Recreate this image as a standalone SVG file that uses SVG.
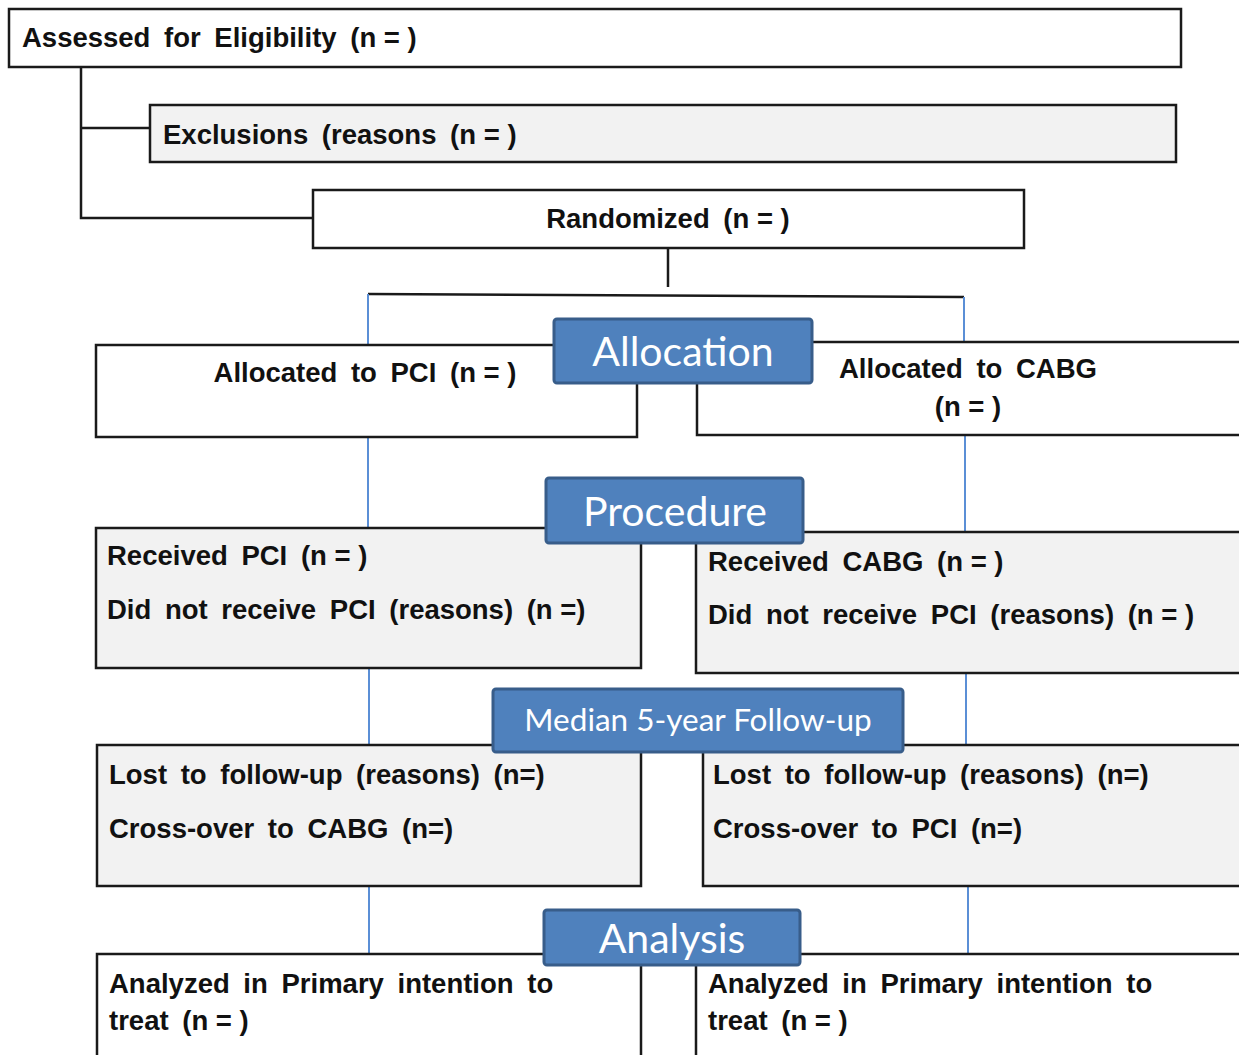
<svg xmlns="http://www.w3.org/2000/svg" width="1239" height="1055" viewBox="0 0 1239 1055">
<style>
.box{stroke:#1a1a1a;stroke-width:2.5;fill:#ffffff}
.grey{fill:#f2f2f2}
.t{font-family:"Liberation Sans",Arial,sans-serif;font-weight:bold;font-size:27.5px;fill:#111;word-spacing:6px}
.n{word-spacing:0}
.lab{fill:#4f81bd;stroke:#385d8a;stroke-width:3}
.lt{font-family:Lato,"Open Sans",sans-serif;fill:#ffffff;text-anchor:middle}
.blk{stroke:#1a1a1a;stroke-width:2.5;fill:none}
.blu{stroke:#5b8fd6;stroke-width:2;fill:none}
</style>
<rect width="1239" height="1055" fill="#ffffff"/>
<g id="connectors">
<path class="blk" d="M81 67 V218 H313 M81 128 H150"/>
<path class="blk" d="M668 248 V287"/>
<path class="blk" d="M368 294 L964 297"/>
<path class="blu" d="M368 294 V345 M964 297 V342"/>
<path class="blu" d="M368 437 V528 M965 435 V532"/>
<path class="blu" d="M369 668 V745 M966 673 V745"/>
<path class="blu" d="M369 886 V954 M968 886 V954"/>
</g>
<g id="assessed">
<rect class="box" x="9" y="9" width="1172" height="58"/>
<text class="t" x="22" y="47">Assessed for Eligibility <tspan class="n">(n = )</tspan></text>
</g>
<g id="exclusions">
<rect class="box grey" x="150" y="105" width="1026" height="57"/>
<text class="t" x="163" y="144">Exclusions (reasons <tspan class="n">(n = )</tspan></text>
</g>
<g id="randomized">
<rect class="box" x="313" y="190" width="711" height="58"/>
<text class="t" x="668" y="228" text-anchor="middle">Randomized <tspan class="n">(n = )</tspan></text>
</g>
<g id="alloc-pci">
<rect class="box" x="96" y="345" width="541" height="92"/>
<text class="t" x="365" y="382" text-anchor="middle">Allocated to PCI <tspan class="n">(n = )</tspan></text>
</g>
<g id="alloc-cabg">
<rect class="box" x="697" y="342" width="545" height="93"/>
<text class="t" x="968" y="378" text-anchor="middle">Allocated to CABG</text>
<text class="t n" x="968" y="416" text-anchor="middle">(n = )</text>
</g>
<g id="recv-pci">
<rect class="box grey" x="96" y="528" width="545" height="140"/>
<text class="t" x="107" y="565">Received PCI <tspan class="n">(n = )</tspan></text>
<text class="t" x="107" y="619">Did not receive PCI (reasons) <tspan class="n">(n =)</tspan></text>
</g>
<g id="recv-cabg">
<rect class="box grey" x="696" y="532" width="546" height="141"/>
<text class="t" x="708" y="571">Received CABG <tspan class="n">(n = )</tspan></text>
<text class="t" x="708" y="624">Did not receive PCI (reasons) <tspan class="n">(n = )</tspan></text>
</g>
<g id="lost-pci">
<rect class="box grey" x="97" y="745" width="544" height="141"/>
<text class="t" x="109" y="784">Lost to follow-up (reasons) (n=)</text>
<text class="t" x="109" y="838">Cross-over to CABG (n=)</text>
</g>
<g id="lost-cabg">
<rect class="box grey" x="703" y="745" width="539" height="141"/>
<text class="t" x="713" y="784">Lost to follow-up (reasons) (n=)</text>
<text class="t" x="713" y="838">Cross-over to PCI (n=)</text>
</g>
<g id="analyzed-pci">
<rect class="box" x="97" y="954" width="544" height="110"/>
<text class="t" x="109" y="993">Analyzed in Primary intention to</text>
<text class="t" x="109" y="1030">treat <tspan class="n">(n = )</tspan></text>
</g>
<g id="analyzed-cabg">
<rect class="box" x="696" y="954" width="546" height="110"/>
<text class="t" x="708" y="993">Analyzed in Primary intention to</text>
<text class="t" x="708" y="1030">treat <tspan class="n">(n = )</tspan></text>
</g>
<g id="label-allocation">
<rect class="lab" x="554" y="319" width="258" height="64" rx="3"/>
<text class="lt" x="683" y="366" font-size="41">Allocation</text>
</g>
<g id="label-procedure">
<rect class="lab" x="546" y="478" width="257" height="65" rx="3"/>
<text class="lt" x="675" y="526" font-size="41">Procedure</text>
</g>
<g id="label-followup">
<rect class="lab" x="493" y="689" width="410" height="63" rx="3"/>
<text class="lt" x="698" y="731" font-size="31.5">Median 5-year Follow-up</text>
</g>
<g id="label-analysis">
<rect class="lab" x="544" y="910" width="256" height="55" rx="3"/>
<text class="lt" x="672" y="953" font-size="41">Analysis</text>
</g>
</svg>
